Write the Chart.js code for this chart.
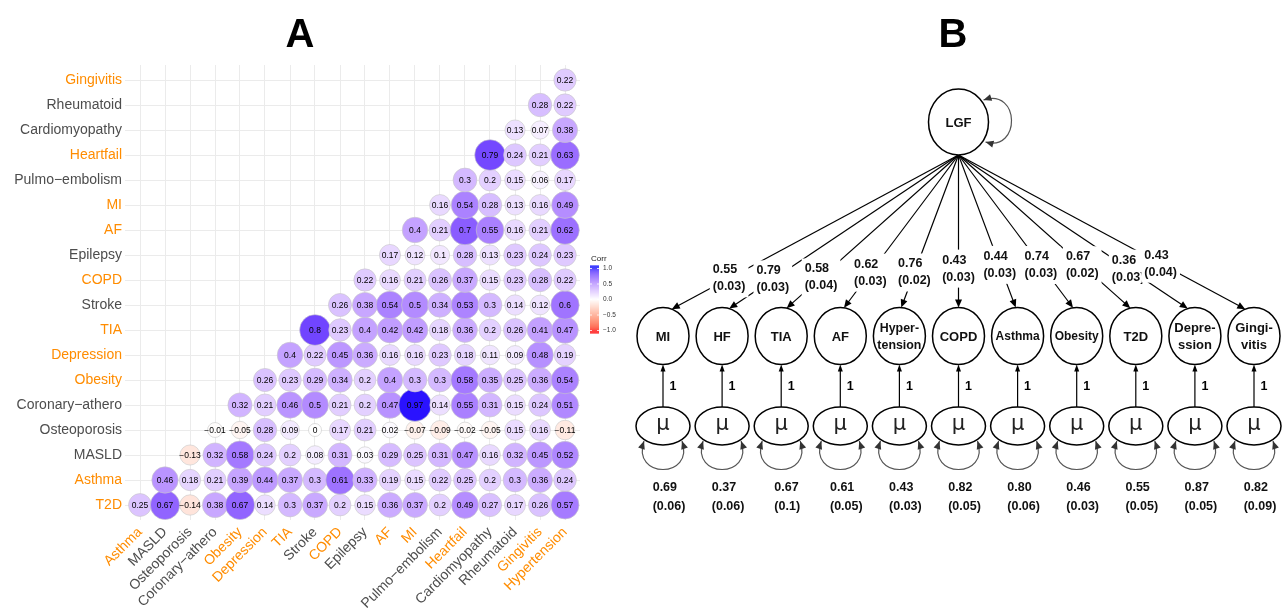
<!DOCTYPE html>
<html>
<head>
<meta charset="utf-8">
<script src="https://cdn.jsdelivr.net/npm/chart.js@4.4.1/dist/chart.umd.min.js"></script>
<style>
  html, body { margin: 0; padding: 0; background: #fff; }
  #wrap { position: relative; width: 1285px; height: 609px; overflow: hidden; background: #fff; }
  #cA { position: absolute; left: 0; top: 0; }
  #cB { position: absolute; left: 620px; top: 0; }
</style>
</head>
<body>
<div id="wrap">
  <canvas id="cA" width="620" height="609"></canvas>
  <canvas id="cB" width="665" height="609"></canvas>
</div>
<script>
// ---------- Panel A: correlation matrix (lower triangle) ----------
const colLabels = ['Asthma','MASLD','Osteoporosis','Coronary−athero','Obesity','Depression','TIA','Stroke','COPD','Epilepsy','AF','MI','Pulmo−embolism','Heartfail','Cardiomyopathy','Rheumatoid','Gingivitis','Hypertension'];
const rowLabels = ['T2D','Asthma','MASLD','Osteoporosis','Coronary−athero','Obesity','Depression','TIA','Stroke','COPD','Epilepsy','AF','MI','Pulmo−embolism','Heartfail','Cardiomyopathy','Rheumatoid','Gingivitis'];
const highlighted = ['Asthma','Obesity','Depression','TIA','COPD','AF','MI','Heartfail','Gingivitis','Hypertension','T2D'];

// one array per row; row k starts at column k
const rT2D          = [0.25,0.67,-0.14,0.38,0.67,0.14,0.3,0.37,0.2,0.15,0.36,0.37,0.2,0.49,0.27,0.17,0.26,0.57];
const rAsthma       = [0.46,0.18,0.21,0.39,0.44,0.37,0.3,0.61,0.33,0.19,0.15,0.22,0.25,0.2,0.3,0.36,0.24];
const rMASLD        = [-0.13,0.32,0.58,0.24,0.2,0.08,0.31,0.03,0.29,0.25,0.31,0.47,0.16,0.32,0.45,0.52];
const rOsteoporosis = [-0.01,-0.05,0.28,0.09,0,0.17,0.21,0.02,-0.07,-0.09,-0.02,-0.05,0.15,0.16,-0.11];
const rCoronary     = [0.32,0.21,0.46,0.5,0.21,0.2,0.47,0.97,0.14,0.55,0.31,0.15,0.24,0.51];
const rObesity      = [0.26,0.23,0.29,0.34,0.2,0.4,0.3,0.3,0.58,0.35,0.25,0.36,0.54];
const rDepression   = [0.4,0.22,0.45,0.36,0.16,0.16,0.23,0.18,0.11,0.09,0.48,0.19];
const rTIA          = [0.8,0.23,0.4,0.42,0.42,0.18,0.36,0.2,0.26,0.41,0.47];
const rStroke       = [0.26,0.38,0.54,0.5,0.34,0.53,0.3,0.14,0.12,0.6];
const rCOPD         = [0.22,0.16,0.21,0.26,0.37,0.15,0.23,0.28,0.22];
const rEpilepsy     = [0.17,0.12,0.1,0.28,0.13,0.23,0.24,0.23];
const rAF           = [0.4,0.21,0.7,0.55,0.16,0.21,0.62];
const rMI           = [0.16,0.54,0.28,0.13,0.16,0.49];
const rPulmo        = [0.3,0.2,0.15,0.06,0.17];
const rHeartfail    = [0.79,0.24,0.21,0.63];
const rCardio       = [0.13,0.07,0.38];
const rRheumatoid   = [0.28,0.22];
const rGingivitis   = [0.22];
const corrRows = [rT2D,rAsthma,rMASLD,rOsteoporosis,rCoronary,rObesity,rDepression,rTIA,rStroke,rCOPD,rEpilepsy,rAF,rMI,rPulmo,rHeartfail,rCardio,rRheumatoid,rGingivitis];

const legendBreaks = [1, 0.5, 0, -0.5, -1];

// ---------- Panel B: one-factor model ----------
const factorName = 'LGF';
const indicatorLabels = [['MI'],['HF'],['TIA'],['AF'],['Hyper-','tension'],['COPD'],['Asthma'],['Obesity'],['T2D'],['Depre-','ssion'],['Gingi-','vitis']];
const loadings   = [0.55,0.79,0.58,0.62,0.76,0.43,0.44,0.74,0.67,0.36,0.43];
const loadingSE  = [0.03,0.03,0.04,0.03,0.02,0.03,0.03,0.03,0.02,0.03,0.04];
const residVar   = [0.69,0.37,0.67,0.61,0.43,0.82,0.80,0.46,0.55,0.87,0.82];
const residSE    = [0.06,0.06,0.1,0.05,0.03,0.05,0.06,0.03,0.05,0.05,0.09];
const fixedPath  = 1;

// ---------- colour scale: red - white - blue, interpolated in CIELAB ----------
const WN = [0.95047, 1, 1.08883];
function toLin(c) { c /= 255; return c <= 0.04045 ? c / 12.92 : Math.pow((c + 0.055) / 1.055, 2.4); }
function toSrgb(c) { c = c <= 0.0031308 ? 12.92 * c : 1.055 * Math.pow(c, 1 / 2.4) - 0.055; return Math.round(Math.max(0, Math.min(1, c)) * 255); }
function rgb2lab(rgb) {
  const R = toLin(rgb[0]), G = toLin(rgb[1]), B = toLin(rgb[2]);
  const X = (0.4124564 * R + 0.3575761 * G + 0.1804375 * B) / WN[0];
  const Y = (0.2126729 * R + 0.7151522 * G + 0.0721750 * B) / WN[1];
  const Z = (0.0193339 * R + 0.1191920 * G + 0.9503041 * B) / WN[2];
  const f = t => t > 0.008856 ? Math.cbrt(t) : 7.787 * t + 16 / 116;
  const fx = f(X), fy = f(Y), fz = f(Z);
  return [116 * fy - 16, 500 * (fx - fy), 200 * (fy - fz)];
}
function lab2rgb(lab) {
  const fy = (lab[0] + 16) / 116, fx = fy + lab[1] / 500, fz = fy - lab[2] / 200;
  const fi = t => t * t * t > 0.008856 ? t * t * t : (t - 16 / 116) / 7.787;
  const X = fi(fx) * WN[0], Y = fi(fy) * WN[1], Z = fi(fz) * WN[2];
  const R = 3.2404542 * X - 1.5371385 * Y - 0.4985314 * Z;
  const G = -0.9692660 * X + 1.8760108 * Y + 0.0415560 * Z;
  const B = 0.0556434 * X - 0.2040259 * Y + 1.0572252 * Z;
  return 'rgb(' + toSrgb(R) + ',' + toSrgb(G) + ',' + toSrgb(B) + ')';
}
const LAB_LOW = rgb2lab([255, 0, 0]), LAB_MID = rgb2lab([255, 255, 255]), LAB_HIGH = rgb2lab([0, 0, 255]);
function corrColor(v) {
  const t = Math.min(1, Math.abs(v));
  const end = v >= 0 ? LAB_HIGH : LAB_LOW;
  return lab2rgb(LAB_MID.map((m, i) => m + (end[i] - m) * t));
}

// bubble diameter grows with sqrt(|r|), between 4 and 10 size units
const maxAbs = Math.max(...corrRows.flat().map(Math.abs));
function corrRadius(v) { return 3.25 * (4 + 6 * Math.sqrt(Math.abs(v) / maxAbs)) / 2; }
function fmtCorr(v) { return v < 0 ? '−' + String(Math.abs(v)) : String(v); }
function labelColor(name) { return highlighted.includes(name) ? '#FF8C00' : '#4D4D4D'; }

const FONT = '"Liberation Sans", Arial, Helvetica, sans-serif';

const cells = [];
corrRows.forEach((vals, r) => vals.forEach((v, k) => cells.push({ x: r + k, y: r, v: v })));

const cellText = {
  id: 'cellText',
  afterDatasetsDraw(chart) {
    const ctx = chart.ctx, meta = chart.getDatasetMeta(0), data = chart.data.datasets[0].data;
    ctx.save();
    ctx.font = '8.5px ' + FONT;
    ctx.fillStyle = '#000';
    ctx.textAlign = 'center';
    ctx.textBaseline = 'middle';
    meta.data.forEach((el, i) => ctx.fillText(fmtCorr(data[i].v), el.x, el.y + 0.5));
    ctx.restore();
  }
};

const corrLegend = {
  id: 'corrLegend',
  afterDraw(chart) {
    const ctx = chart.ctx;
    const x0 = 590, w = 9, yTop = 268.5, yBot = 330.5;
    const vy = v => yTop + (1 - v) / 2 * (yBot - yTop);
    ctx.save();
    for (let y = yTop - 3; y < yBot + 3; y += 1) {
      const v = Math.max(-1, Math.min(1, 1 - 2 * (y + 0.5 - yTop) / (yBot - yTop)));
      ctx.fillStyle = corrColor(v);
      ctx.fillRect(x0, y, w, 1);
    }
    ctx.strokeStyle = '#fff';
    ctx.lineWidth = 0.8;
    legendBreaks.forEach(b => {
      const y = vy(b);
      ctx.beginPath(); ctx.moveTo(x0, y); ctx.lineTo(x0 + 2, y); ctx.moveTo(x0 + w - 2, y); ctx.lineTo(x0 + w, y); ctx.stroke();
    });
    ctx.fillStyle = '#222';
    ctx.font = '8px ' + FONT;
    ctx.textAlign = 'left';
    ctx.textBaseline = 'alphabetic';
    ctx.fillText('Corr', x0 + 1, 261);
    ctx.font = '6.5px ' + FONT;
    ctx.fillStyle = '#333';
    ctx.textBaseline = 'middle';
    legendBreaks.forEach(b => ctx.fillText((b < 0 ? '−' : '') + Math.abs(b).toFixed(1), x0 + w + 4, vy(b)));
    ctx.restore();
  }
};

function panelTitle(text, x) {
  return {
    id: 'panelTitle',
    afterDraw(chart) {
      const ctx = chart.ctx;
      ctx.save();
      ctx.font = 'bold 40px ' + FONT;
      ctx.fillStyle = '#000';
      ctx.textAlign = 'center';
      ctx.textBaseline = 'alphabetic';
      ctx.fillText(text, x, 47);
      ctx.restore();
    }
  };
}

new Chart(document.getElementById('cA'), {
  type: 'scatter',
  data: {
    datasets: [{
      data: cells,
      pointRadius: c => corrRadius(c.raw.v),
      pointHoverRadius: c => corrRadius(c.raw.v),
      backgroundColor: c => corrColor(c.raw.v),
      borderColor: '#C8C8C8',
      borderWidth: 0.6
    }]
  },
  options: {
    responsive: false,
    animation: false,
    events: [],
    layout: { padding: { top: 65, right: 40, left: 0, bottom: 0 } },
    plugins: { legend: { display: false }, tooltip: { enabled: false } },
    scales: {
      x: {
        type: 'linear', min: -0.6, max: 17.6,
        afterBuildTicks: s => { s.ticks = colLabels.map((_, i) => ({ value: i })); },
        afterFit: s => { s.height = 89; },
        grid: { color: '#EBEBEB', lineWidth: 1, drawTicks: false },
        border: { display: false },
        ticks: {
          autoSkip: false, minRotation: 45, maxRotation: 45, padding: 4,
          font: { family: FONT, size: 14 },
          color: c => labelColor(colLabels[c.index]),
          callback: v => colLabels[v]
        }
      },
      y: {
        type: 'linear', min: -0.6, max: 17.6,
        afterBuildTicks: s => { s.ticks = rowLabels.map((_, i) => ({ value: i })); },
        afterFit: s => { s.width = 125; },
        grid: { color: '#EBEBEB', lineWidth: 1, drawTicks: false },
        border: { display: false },
        ticks: {
          autoSkip: false, padding: 3,
          font: { family: FONT, size: 14 },
          color: c => labelColor(rowLabels[c.index]),
          callback: v => rowLabels[v]
        }
      }
    }
  },
  plugins: [cellText, corrLegend, panelTitle('A', 300)]
});

// ---------- Panel B drawing ----------
const LEVEL = { factor: 122, indicator: 336, error: 426 };
const FACTOR_R = [30, 33], IND_R = [26, 28.5], ERR_R = [27, 19];
const labelAt = [0.80, 0.81, 0.80, 0.77, 0.77, 0.745, 0.72, 0.72, 0.72, 0.74, 0.705];

function arrowHead(ctx, tx, ty, fromX, fromY, len, half) {
  const a = Math.atan2(ty - fromY, tx - fromX);
  const c = Math.cos(a), s = Math.sin(a);
  ctx.beginPath();
  ctx.moveTo(tx, ty);
  ctx.lineTo(tx - len * c + half * s, ty - len * s - half * c);
  ctx.lineTo(tx - len * c - half * s, ty - len * s + half * c);
  ctx.closePath();
  ctx.fill();
}
function ellipse(ctx, cx, cy, r) {
  ctx.beginPath();
  ctx.ellipse(cx, cy, r[0], r[1], 0, 0, Math.PI * 2);
  ctx.fillStyle = '#fff';
  ctx.fill();
  ctx.stroke();
}
function borderPoint(cx, cy, r, tx, ty, k) {
  const th = Math.atan2((ty - cy) * k / r[1], (tx - cx) / r[0]);
  return [cx + r[0] * Math.cos(th), cy + r[1] * Math.sin(th)];
}
function textBlock(ctx, lines, cx, cy, lh, boxed) {
  const w = Math.max(...lines.map(l => ctx.measureText(l).width));
  const left = cx - w / 2;
  const top = cy - lh * lines.length / 2;
  if (boxed) { ctx.fillStyle = '#fff'; ctx.fillRect(left - 3, top - 2, w + 6, lh * lines.length + 4); }
  ctx.fillStyle = '#111';
  ctx.textAlign = 'left';
  ctx.textBaseline = 'middle';
  lines.forEach((l, i) => ctx.fillText(l, left, top + lh * (i + 0.5)));
}

const pathDiagram = {
  id: 'pathDiagram',
  afterDraw(chart) {
    const ctx = chart.ctx, xs = chart.scales.x, ys = chart.scales.y;
    const n = indicatorLabels.length;
    const fx = xs.getPixelForValue((n - 1) / 2), fy = ys.getPixelForValue(LEVEL.factor);
    const iy = ys.getPixelForValue(LEVEL.indicator), ey = ys.getPixelForValue(LEVEL.error);
    const sx = fx, sy = fy + FACTOR_R[1];
    ctx.save();
    ctx.lineCap = 'butt';

    // loadings: factor -> indicators
    const ends = [];
    for (let i = 0; i < n; i++) {
      const cx = xs.getPixelForValue(i);
      const e = borderPoint(cx, iy, IND_R, sx, sy, 5);
      ends.push(e);
      const a = Math.atan2(e[1] - sy, e[0] - sx);
      ctx.strokeStyle = '#000'; ctx.lineWidth = 1.2;
      ctx.beginPath(); ctx.moveTo(sx, sy); ctx.lineTo(e[0] - 6 * Math.cos(a), e[1] - 6 * Math.sin(a)); ctx.stroke();
      ctx.fillStyle = '#000';
      arrowHead(ctx, e[0], e[1], sx, sy, 8, 3.5);
    }
    ctx.font = 'bold 12.5px ' + FONT;
    for (let i = 0; i < n; i++) {
      const t = labelAt[i];
      const lx = sx + (ends[i][0] - sx) * t, ly = sy + (ends[i][1] - sy) * t;
      textBlock(ctx, [loadings[i].toFixed(2), '(' + String(loadingSE[i]) + ')'], lx, ly, 17, true);
    }

    // factor node with its variance loop
    ctx.strokeStyle = '#000'; ctx.lineWidth = 1.5;
    ellipse(ctx, fx, fy, FACTOR_R);
    ctx.fillStyle = '#111';
    ctx.font = 'bold 13px ' + FONT;
    ctx.textAlign = 'center'; ctx.textBaseline = 'middle';
    ctx.fillText(factorName, fx, fy + 1);
    const L0 = [fx + 25, fy - 22], L1 = [fx + 62, fy - 34], L2 = [fx + 62, fy + 30], L3 = [fx + 27, fy + 20];
    ctx.strokeStyle = '#555'; ctx.lineWidth = 1.2;
    ctx.beginPath(); ctx.moveTo(L0[0], L0[1]); ctx.bezierCurveTo(L1[0], L1[1], L2[0], L2[1], L3[0], L3[1]); ctx.stroke();
    ctx.fillStyle = '#333';
    arrowHead(ctx, L0[0], L0[1], L1[0], L1[1], 8, 3.5);
    arrowHead(ctx, L3[0], L3[1], L2[0], L2[1], 8, 3.5);

    for (let i = 0; i < n; i++) {
      const cx = xs.getPixelForValue(i);
      // indicator node
      ctx.strokeStyle = '#000'; ctx.lineWidth = 1.5;
      ellipse(ctx, cx, iy, IND_R);
      const lines = indicatorLabels[i];
      ctx.font = 'bold 13px ' + FONT;
      const wMax = Math.max(...lines.map(l => ctx.measureText(l).width));
      const size = Math.min(13, 13 * 44 / wMax);
      ctx.font = 'bold ' + size.toFixed(1) + 'px ' + FONT;
      ctx.fillStyle = '#111'; ctx.textAlign = 'center'; ctx.textBaseline = 'middle';
      const lh = 17;
      lines.forEach((l, k) => ctx.fillText(l, cx, iy + 1 + (k - (lines.length - 1) / 2) * lh));

      // error term node
      ellipse(ctx, cx, ey, ERR_R);
      ctx.fillStyle = '#222';
      ctx.font = '21px "DejaVu Sans", sans-serif';
      ctx.fillText('μ', cx, ey - 1);

      // fixed path error -> indicator
      const top = ey - ERR_R[1], bot = iy + IND_R[1];
      ctx.strokeStyle = '#000'; ctx.lineWidth = 1.2;
      ctx.beginPath(); ctx.moveTo(cx, top); ctx.lineTo(cx, bot + 6); ctx.stroke();
      ctx.fillStyle = '#000';
      arrowHead(ctx, cx, bot, cx, top, 7, 2.5);
      ctx.font = 'bold 12.5px ' + FONT;
      ctx.fillText(String(fixedPath), cx + 10, (top + bot) / 2 + 0.5);

      // residual variance loop
      const P0 = [cx - 19, ey + 15], P1 = [cx - 32, ey + 53], P2 = [cx + 32, ey + 53], P3 = [cx + 19, ey + 15];
      ctx.strokeStyle = '#555'; ctx.lineWidth = 1.2;
      ctx.beginPath(); ctx.moveTo(P0[0], P0[1]); ctx.bezierCurveTo(P1[0], P1[1], P2[0], P2[1], P3[0], P3[1]); ctx.stroke();
      ctx.fillStyle = '#333';
      arrowHead(ctx, P0[0], P0[1], P1[0], P1[1], 8, 3.5);
      arrowHead(ctx, P3[0], P3[1], P2[0], P2[1], 8, 3.5);

      ctx.font = 'bold 12.5px ' + FONT;
      textBlock(ctx, [residVar[i].toFixed(2), '(' + String(residSE[i]) + ')'], cx + 6, ey + 71, 19, false);
    }
    ctx.restore();
  }
};

new Chart(document.getElementById('cB'), {
  type: 'scatter',
  data: { datasets: [{ data: indicatorLabels.map((_, i) => ({ x: i, y: LEVEL.indicator })), pointRadius: 0 }] },
  options: {
    responsive: false,
    animation: false,
    events: [],
    layout: { padding: { left: 43, right: 31, top: 0, bottom: 0 } },
    plugins: { legend: { display: false }, tooltip: { enabled: false } },
    scales: {
      x: { type: 'linear', min: 0, max: indicatorLabels.length - 1, display: false },
      y: { type: 'linear', min: 0, max: 609, reverse: true, display: false }
    }
  },
  plugins: [pathDiagram, panelTitle('B', 333)]
});
</script>
</body>
</html>
